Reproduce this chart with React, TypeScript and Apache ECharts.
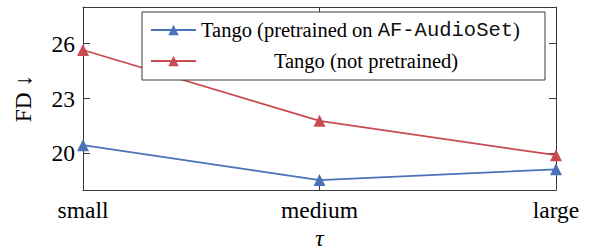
import React, { useEffect, useRef } from "react";
import * as echarts from "echarts";

const categories = ["small", "medium", "large"];
const pretrainedFD = [20.45, 18.54, 19.13];
const notPretrainedFD = [25.65, 21.78, 19.9];
const yTicks = [20, 23, 26];
const seriesNames = ["Tango (pretrained on AF-AudioSet)", "Tango (not pretrained)"];

const SERIF = "Liberation Serif";
const MONO = "Liberation Mono";
const BLUE = "#4a72b8";
const RED = "#c94a50";
const AXIS = "#3a3a3a";

export default function App() {
  const ref = useRef<HTMLDivElement>(null);
  useEffect(() => {
    if (!ref.current) return;
    const chart = echarts.init(ref.current, null, { renderer: "svg" });
    const tickStyle = { show: true, inside: true, length: 7, lineStyle: { color: AXIS, width: 1 } };
    const lineStyle = { show: true, lineStyle: { color: AXIS, width: 1 } };
    chart.setOption({
      animation: false,
      backgroundColor: "#ffffff",
      textStyle: { fontFamily: SERIF },
      grid: { left: 83, right: 34, top: 7, bottom: 60, outerBoundsMode: "none" },
      legend: {
        left: 142,
        top: 12,
        orient: "vertical",
        itemWidth: 45,
        itemHeight: 13,
        itemGap: 9,
        padding: [7, 14, 8, 8],
        borderColor: AXIS,
        borderWidth: 1,
        backgroundColor: "#ffffff",
        data: seriesNames,
        formatter: (name: string) =>
          name === seriesNames[0]
            ? "{s|Tango (pretrained on }{m|AF-AudioSet}{s|)}"
            : "{c|Tango (not pretrained)}",
        textStyle: {
          fontFamily: SERIF,
          fontSize: 20.5,
          lineHeight: 22,
          color: "#000",
          rich: {
            s: { fontFamily: SERIF, fontSize: 20.5, lineHeight: 22, color: "#000" },
            m: { fontFamily: MONO, fontSize: 20.5, lineHeight: 22, color: "#111" },
            c: { fontFamily: SERIF, fontSize: 20.5, lineHeight: 22, color: "#000", width: 330, align: "center" },
          },
        },
      },
      xAxis: [
        {
          type: "category",
          data: categories,
          boundaryGap: false,
          position: "bottom",
          axisLine: lineStyle,
          axisTick: tickStyle,
          axisLabel: { fontFamily: SERIF, fontSize: 23.5, color: "#000", margin: 8 },
          name: "τ",
          nameLocation: "middle",
          nameGap: 36,
          nameTextStyle: { fontFamily: SERIF, fontSize: 23.5, fontStyle: "italic", color: "#000" },
          splitLine: { show: false },
        },
        {
          type: "category",
          data: categories,
          boundaryGap: false,
          position: "top",
          axisLine: lineStyle,
          axisTick: tickStyle,
          axisLabel: { show: false },
          splitLine: { show: false },
        },
      ],
      yAxis: [
        {
          type: "value",
          min: 18,
          max: 28,
          position: "left",
          axisLine: lineStyle,
          axisTick: { ...tickStyle, customValues: yTicks },
          axisLabel: { fontFamily: SERIF, fontSize: 23.5, color: "#000", margin: 8, customValues: yTicks },
          splitLine: { show: false },
          name: "FD ↓",
          nameLocation: "middle",
          nameGap: 48,
          nameTextStyle: { fontFamily: SERIF, fontSize: 23.5, color: "#000" },
        },
        {
          type: "value",
          min: 18,
          max: 28,
          position: "right",
          axisLine: lineStyle,
          axisTick: { ...tickStyle, customValues: yTicks },
          axisLabel: { show: false, customValues: yTicks },
          splitLine: { show: false },
        },
      ],
      series: [
        {
          name: seriesNames[0],
          type: "line",
          data: pretrainedFD,
          symbol: "triangle",
          symbolSize: 12,
          itemStyle: { color: BLUE },
          lineStyle: { color: BLUE, width: 1.8 },
        },
        {
          name: seriesNames[1],
          type: "line",
          data: notPretrainedFD,
          symbol: "triangle",
          symbolSize: 12,
          itemStyle: { color: RED },
          lineStyle: { color: RED, width: 1.8 },
        },
      ],
    });
    return () => chart.dispose();
  }, []);
  return <div ref={ref} style={{ width: 590, height: 250, position: "absolute", left: 0, top: 0 }} />;
}
